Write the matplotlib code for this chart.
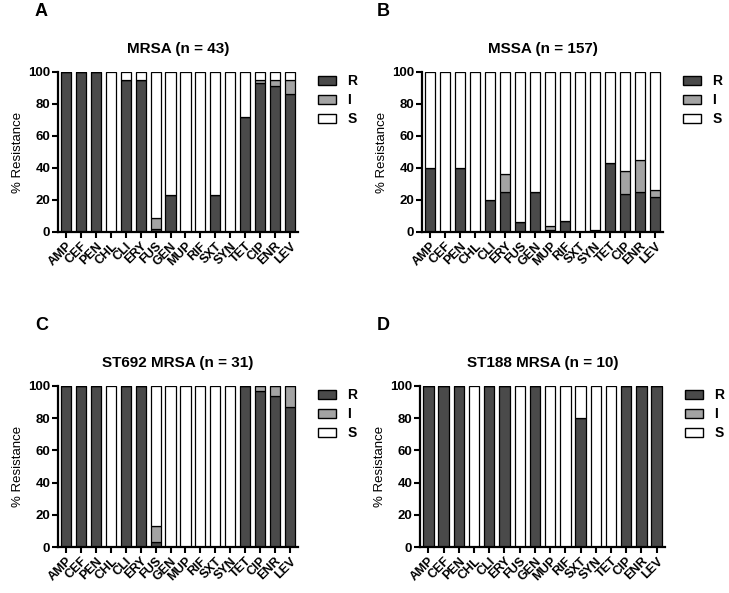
import matplotlib
matplotlib.use("Agg")
import matplotlib.pyplot as plt
from matplotlib.patches import Patch
import numpy as np

plt.rcParams['font.family'] = ['Liberation Sans', 'DejaVu Sans']
plt.rcParams['font.weight'] = 'bold'

drugs = ["AMP", "CEF", "PEN", "CHL", "CLI", "ERY", "FUS", "GEN", "MUP", "RIF",
         "SXT", "SYN", "TET", "CIP", "ENR", "LEV"]

mrsa_R = [100, 100, 100, 0, 95, 95, 2, 23, 0, 0, 23, 0, 72, 93, 91, 86]
mrsa_I = [0, 0, 0, 0, 0, 0, 7, 0, 0, 0, 0, 0, 0, 2, 4, 9]

mssa_R = [40, 0, 40, 0, 20, 25, 6, 25, 1, 7, 0, 1, 43, 24, 25, 22]
mssa_I = [0, 0, 0, 0, 0, 11, 0, 0, 3, 0, 0, 0, 0, 14, 20, 4]

st692_R = [100, 100, 100, 0, 100, 100, 3, 0, 0, 0, 0, 0, 100, 97, 94, 87]
st692_I = [0, 0, 0, 0, 0, 0, 10, 0, 0, 0, 0, 0, 0, 3, 6, 13]

st188_R = [100, 100, 100, 0, 100, 100, 0, 100, 0, 0, 80, 0, 0, 100, 100, 100]
st188_I = [0] * 16

W, H = 729.0, 593.0
panels = [
    ("A", "MRSA (n = 43)", mrsa_R, mrsa_I, [58 / W, 1 - 232 / H, 240 / W, 160 / H], 35),
    ("B", "MSSA (n = 157)", mssa_R, mssa_I, [422 / W, 1 - 232 / H, 241 / W, 160 / H], 377),
    ("C", "ST692 MRSA (n = 31)", st692_R, st692_I, [58 / W, 1 - 547 / H, 240 / W, 161 / H], 35),
    ("D", "ST188 MRSA (n = 10)", st188_R, st188_I, [420 / W, 1 - 547 / H, 245 / W, 161 / H], 377),
]

col_R = "#4a4a4a"
col_I = "#a3a3a3"
col_S = "#ffffff"

fig = plt.figure(figsize=(7.29, 5.93), dpi=100)

for letter, title, R, I, pos, lx in panels:
    ax = fig.add_axes(pos)
    R = np.array(R, dtype=float)
    I = np.array(I, dtype=float)
    S = 100 - R - I
    x = np.arange(len(drugs))
    w = 0.68
    ax.bar(x, R, w, color=col_R, edgecolor="black", linewidth=0.9, zorder=2)
    ax.bar(x, I, w, bottom=R, color=col_I, edgecolor="black", linewidth=0.9, zorder=2)
    ax.bar(x, S, w, bottom=R + I, color=col_S, edgecolor="black", linewidth=0.9, zorder=2)
    ax.set_xlim(-0.55, len(drugs) - 0.45)
    ax.set_ylim(0, 100)
    ax.set_yticks([0, 20, 40, 60, 80, 100])
    ax.set_xticks(x)
    ax.set_xticklabels(drugs, rotation=45, ha="right", rotation_mode="anchor",
                       fontsize=9, fontweight="bold")
    ax.tick_params(axis="y", labelsize=9.5, width=1.5, length=4, pad=1.5)
    ax.tick_params(axis="x", width=1.5, length=4, pad=2)
    for lab in ax.get_yticklabels():
        lab.set_fontweight("bold")
    ax.spines["top"].set_visible(False)
    ax.spines["right"].set_visible(False)
    ax.spines["left"].set_linewidth(1.6)
    ax.spines["bottom"].set_linewidth(1.6)
    ax.set_ylabel("% Resistance", fontsize=9.5, fontweight="normal", labelpad=3)
    ax.set_title(title, fontsize=11, fontweight="bold", pad=14)
    handles = [Patch(facecolor=col_R, edgecolor="black", linewidth=1.0, label="R"),
               Patch(facecolor=col_I, edgecolor="black", linewidth=1.0, label="I"),
               Patch(facecolor=col_S, edgecolor="black", linewidth=1.0, label="S")]
    ax.legend(handles=handles, loc="upper left", bbox_to_anchor=(1.06, 1.02),
              frameon=False, fontsize=10, handlelength=1.3, handleheight=0.6,
              labelspacing=0.35, handletextpad=0.8, borderaxespad=0)
    fig.text(lx / W, pos[1] + pos[3] + 69 / H, letter, fontsize=13,
             fontweight="bold", ha="left", va="top")

fig.savefig("out.png", dpi=100)
